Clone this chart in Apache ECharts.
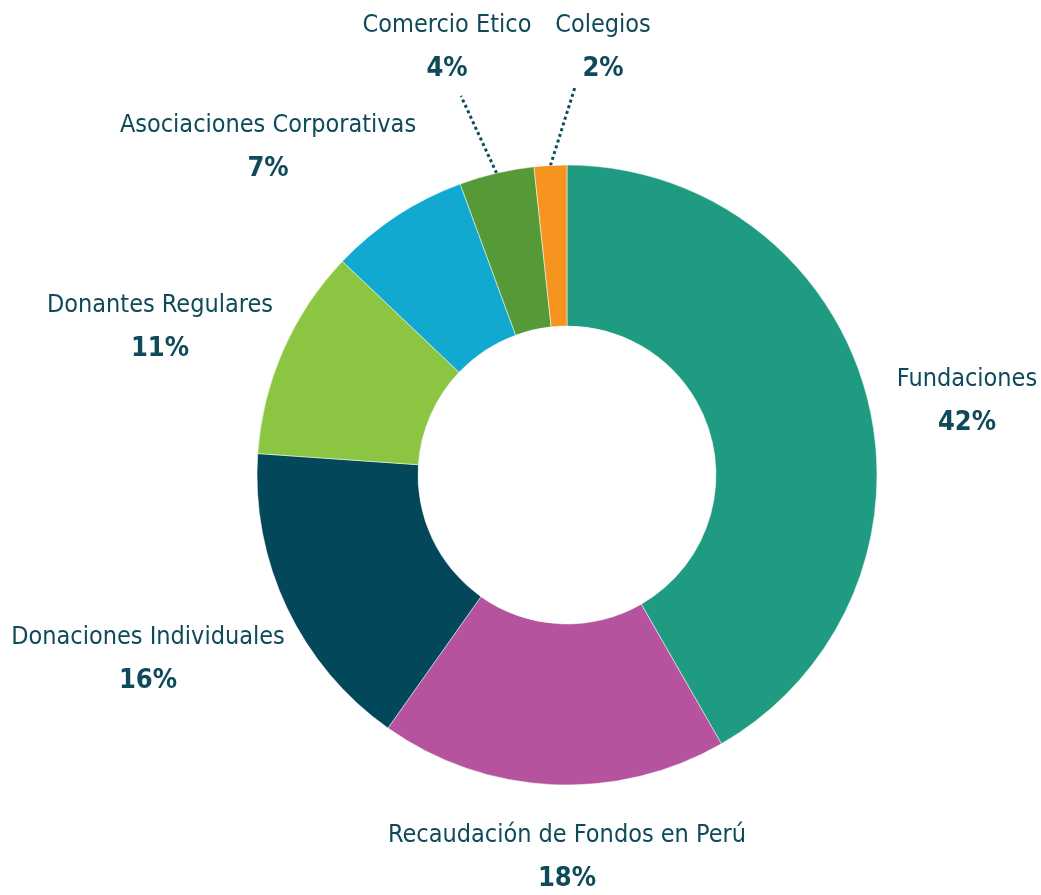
<!DOCTYPE html>
<html>
<head>
<meta charset="utf-8">
<script src="https://cdn.jsdelivr.net/npm/echarts@6/dist/echarts.min.js"></script>
<style>
  html, body { margin: 0; padding: 0; background: #fff; }
  #chart { width: 1041px; height: 895px; }
</style>
</head>
<body>
<div id="chart"></div>
<script>
const categories = [
  'Fundaciones',
  'Recaudación de Fondos en Perú',
  'Donaciones Individuales',
  'Donantes Regulares',
  'Asociaciones Corporativas',
  'Comercio Etico',
  'Colegios'
];
const values = [41.7, 18.1, 16.3, 11.0, 7.3, 3.9, 1.7];
const pctLabels = ['42%', '18%', '16%', '11%', '7%', '4%', '2%'];
const colors = ['#1e9b80', '#b5539e', '#02475a', '#8bc541', '#11a9cf', '#559a37', '#f7941f'];
const withLeader = [false, false, false, false, false, true, true];

// label block centres
const labelPos = [
  [967, 401],
  [567, 857],
  [148, 659],
  [160, 327],
  [268, 147],
  [447, 47],
  [603, 47]
];
// where the dotted leader meets the label, relative to its centre
const leaderEnd = [null, null, null, null, null, [14, 49], [-28, 40]];

const textColor = '#0e4a5a';

const chart = echarts.init(document.getElementById('chart'));

const option = {
  backgroundColor: '#fff',
  animation: false,
  series: [{
    type: 'pie',
    center: [567, 475],
    radius: [149, 310],
    startAngle: 90,
    clockwise: true,
    avoidLabelOverlap: false,
    itemStyle: { borderColor: '#ffffff', borderWidth: 0.5 },
    label: {
      show: true,
      position: 'outside',
      formatter: (p) => '{n|' + p.name + '}\n{v|' + pctLabels[p.dataIndex] + '}',
      rich: {
        n: {
          fontFamily: '"DejaVu Sans Condensed", sans-serif',
          fontSize: 25,
          color: textColor,
          lineHeight: 44,
          align: 'center'
        },
        v: {
          fontFamily: '"DejaVu Sans Condensed", "DejaVu Sans", sans-serif',
          fontWeight: 'bold',
          fontSize: 27,
          color: textColor,
          lineHeight: 44,
          align: 'center'
        }
      }
    },
    labelLine: {
      show: false,
      length: 20,
      length2: 0,
      lineStyle: { color: textColor, width: 3, type: 'dotted' }
    },
    labelLayout: (params) => {
      const i = params.dataIndex;
      const pos = labelPos[i];
      const out = { x: pos[0], y: pos[1], align: 'center', verticalAlign: 'middle' };
      if (withLeader[i] && params.labelLinePoints) {
        const start = params.labelLinePoints[0];
        out.labelLinePoints = [
          start,
          [pos[0] + leaderEnd[i][0], pos[1] + leaderEnd[i][1]]
        ];
      }
      return out;
    },
    data: categories.map((name, i) => ({
      name: name,
      value: values[i],
      itemStyle: { color: colors[i] },
      labelLine: { show: withLeader[i] }
    }))
  }]
};

chart.setOption(option);
</script>
</body>
</html>
